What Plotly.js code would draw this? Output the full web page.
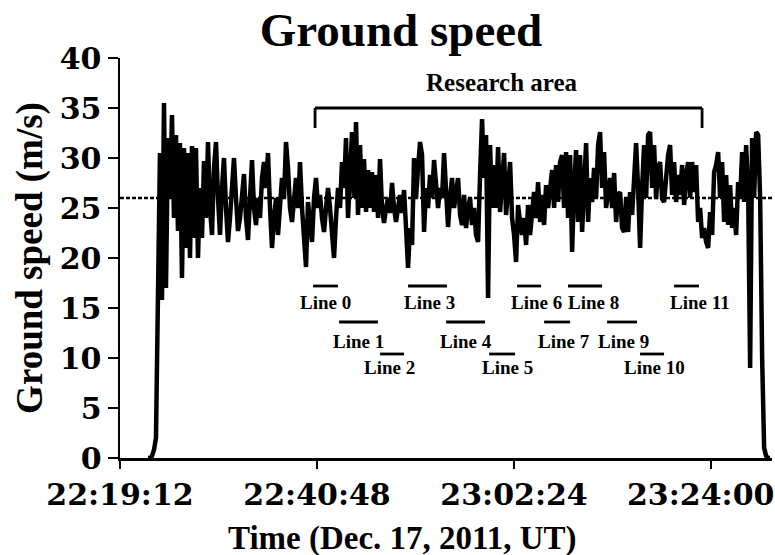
<!DOCTYPE html>
<html>
<head>
<meta charset="utf-8">
<script src="https://cdn.plot.ly/plotly-3.0.1.min.js"></script>
<style>html,body{margin:0;padding:0;background:#fff;}#chart{width:775px;height:555px;}</style>
</head>
<body>
<div id="chart"></div>
<script>
// ---- Data ----
// Ground speed samples (m/s), uniformly sampled from the first sample time
const sampleStart = '2011-12-17 22:22:16';
const sampleStepSeconds = 13.16;
const groundSpeed = [
  0, 0, 0.2, 0.8, 2, 21, 30.5, 15.8, 35.5, 17,
  32, 26, 34.3, 24, 32.3, 22.7, 31.5, 18, 31, 21,
  30.5, 20, 31.2, 22, 31, 20, 27, 22, 29.7, 24,
  31.6, 25, 22.3, 29, 31.6, 26, 22.3, 27, 30, 25,
  21.6, 24, 28, 30, 26, 22.7, 24, 26, 28.4, 24,
  21.8, 26, 29.8, 25, 23.3, 26, 24, 28, 29.6, 27,
  30.5, 25, 21, 24, 26, 22.3, 25, 28, 26, 31.6,
  29, 25, 23.6, 26, 28, 25, 29.6, 25, 22.6, 19.1,
  25.6, 23, 21.6, 26, 28, 25, 26.3, 24, 22.6, 25,
  27, 25, 23, 20, 24, 27, 25, 29.6, 27, 32,
  24, 28, 32.6, 26, 33.6, 24.3, 31.3, 25, 29.9, 24.6,
  28.8, 25, 28.6, 24.6, 28.3, 24, 29.9, 25, 23.5, 25,
  26, 24.5, 27.5, 25, 23.6, 25, 26.3, 24.5, 26.8, 23,
  19, 23, 21.3, 30, 26, 29, 31.6, 30.3, 22.6, 27,
  25, 28.3, 26, 29.8, 27, 25, 27, 26, 30.5, 26,
  23.1, 26, 28, 25, 26.3, 28, 24.3, 23.3, 26.3, 23,
  25, 26, 23.3, 25, 22.3, 21.6, 28.3, 33.9, 28, 32.3,
  16, 31.3, 25, 29.3, 25, 31.1, 24.6, 27, 30.5, 24.3,
  27, 29.6, 24, 22.3, 19.6, 25.3, 23.6, 22.3, 24, 21.3,
  25.3, 22.3, 24.5, 26.6, 24, 27.6, 23.6, 26.3, 23.3, 27.3,
  25, 27, 28.8, 25, 29.3, 25.6, 29.6, 30.3, 25, 30.6,
  24, 30.3, 20.6, 27, 30.8, 23.6, 30.3, 22.6, 28, 31.5,
  23.6, 28, 25.6, 29, 26, 31.3, 32.6, 27, 30.6, 25,
  26.6, 28, 25, 28.5, 23.6, 26.3, 26.6, 23, 22.6, 26,
  22.6, 26.6, 24.3, 28.3, 31.5, 27, 21, 27, 31.3, 26,
  32.3, 32.6, 27, 31.3, 25.9, 29, 29.6, 25.9, 25.6, 28,
  30.3, 31.3, 26.3, 29.6, 25.6, 28.3, 26.3, 29.3, 25.3, 28.3,
  29.6, 26, 29.6, 26.6, 29.3, 23.6, 25, 22, 23, 21.6,
  21, 24.6, 22.3, 28.6, 29.3, 30.6, 26, 29.6, 23.6, 28.3,
  23.3, 27.3, 23, 25, 22.3, 27.6, 26, 30.6, 25.6, 31.3,
  27, 9, 32, 26, 32.6, 32.3, 26, 10, 1, 0.2,
  0, 0
];
const meanSpeed = 26;

// Research area bracket
const researchStart = '2011-12-17 22:40:35';
const researchEnd = '2011-12-17 23:23:01';
const researchTop = 35;
const researchFoot = 33;
const researchLabel = 'Research area';
const researchLabelTime = '2011-12-17 23:01:05';

// Survey lines
const lineNames = ['Line 0','Line 1','Line 2','Line 3','Line 4','Line 5','Line 6','Line 7','Line 8','Line 9','Line 10','Line 11'];
const lineStart = ['22:40:22','22:43:13','22:47:43','22:50:47','22:54:57','22:59:40','23:02:44','23:05:42','23:08:19','23:12:36','23:16:13','23:19:57'];
const lineEnd   = ['22:43:06','22:47:29','22:50:20','22:55:03','22:59:13','23:02:31','23:05:22','23:08:33','23:12:03','23:15:53','23:18:51','23:22:41'];
const lineLabelTime = ['22:41:41','22:45:18','22:48:42','22:53:11','22:57:08','23:01:38','23:04:55','23:07:53','23:11:04','23:14:21','23:17:45','23:22:48'];
const lineRow = [1,2,3,1,2,3,1,2,1,2,3,1];
const rowBarLevel = {1: 17.2, 2: 13.6, 3: 10.4};
const rowLabelLevel = {1: 15.6, 2: 11.7, 3: 9.1};

// Axis ticks
const xTickTimes = ['22:19:12', '22:40:48', '23:02:24', '23:24:00'];
const xRange = ['2011-12-17 22:19:12', '2011-12-17 23:30:41'];
const yRange = [0, 40];

// ---- Build ----
const day = '2011-12-17 ';
function parseUTC(s) {
  const m = s.match(/(\d+)-(\d+)-(\d+) (\d+):(\d+):(\d+)/);
  return Date.UTC(+m[1], +m[2]-1, +m[3], +m[4], +m[5], +m[6]);
}
const t0 = parseUTC(sampleStart);
const times = groundSpeed.map((_, i) => t0 + i * sampleStepSeconds * 1000);

const serif = 'Liberation Serif, Times New Roman, serif';
const wideSerif = 'DejaVu Serif, serif';
const tickFont = {family: wideSerif, size: 30, color: '#000', weight: 'bold'};
const traces = [{
  x: times, y: groundSpeed, type: 'scatter', mode: 'lines',
  line: {color: '#000', width: 4.5}, hoverinfo: 'skip'
}];

const blackLine = {color: '#000', width: 2.8};
const shapes = [
  {type: 'line', xref: 'paper', x0: 0, x1: 1, yref: 'y', y0: meanSpeed, y1: meanSpeed,
   line: {color: '#000', width: 2.5, dash: '4px,2px'}},
  {type: 'line', xref: 'x', yref: 'y', x0: researchStart, x1: researchEnd, y0: researchTop, y1: researchTop, line: blackLine},
  {type: 'line', xref: 'x', yref: 'y', x0: researchStart, x1: researchStart, y0: researchTop, y1: researchFoot, line: blackLine},
  {type: 'line', xref: 'x', yref: 'y', x0: researchEnd, x1: researchEnd, y0: researchTop, y1: researchFoot, line: blackLine}
];
const annotations = [
  {x: researchLabelTime, y: 37.6, xref: 'x', yref: 'y', text: researchLabel, showarrow: false,
   font: {family: serif, size: 25, color: '#000', weight: 'bold'}}
];
lineNames.forEach((n, i) => {
  const yb = rowBarLevel[lineRow[i]];
  shapes.push({type: 'line', xref: 'x', yref: 'y', x0: day + lineStart[i], x1: day + lineEnd[i],
    y0: yb, y1: yb, line: blackLine});
  annotations.push({x: day + lineLabelTime[i], y: rowLabelLevel[lineRow[i]], xref: 'x', yref: 'y',
    text: n, showarrow: false, font: {family: serif, size: 19, color: '#000', weight: 'bold'}});
});
annotations.push({x: (402 - 120) / 652, y: -0.2, xref: 'paper', yref: 'paper', yanchor: 'middle',
  text: 'Time (Dec. 17, 2011, UT)', showarrow: false,
  font: {family: serif, size: 33, color: '#000', weight: 'bold'}});
// last time label is pushed left so that it stays inside the picture, as in the reference
const lastIdx = xTickTimes.length - 1;
annotations.push({x: 1 + 3 / 652, xanchor: 'right', xref: 'paper', y: -36 / 400, yref: 'paper', yanchor: 'middle',
  text: xTickTimes[lastIdx], showarrow: false, xshift: 0, borderpad: 0, font: tickFont});

const layout = {
  width: 775, height: 555,
  margin: {l: 120, r: 3, t: 58, b: 97},
  paper_bgcolor: '#fff', plot_bgcolor: '#fff',
  showlegend: false,
  title: {text: 'Ground speed', x: 401 / 775, xanchor: 'center', xref: 'container',
          y: 1 - 30 / 555, yanchor: 'middle', yref: 'container',
          font: {family: serif, size: 47, color: '#000', weight: 'bold'}},
  xaxis: {type: 'date', range: xRange,
          tickvals: xTickTimes.map(t => day + t),
          ticktext: xTickTimes.map((t, i) => i === lastIdx ? '' : t),
          ticks: 'outside', ticklen: 8, tickwidth: 2.5, tickcolor: '#000',
          showline: true, linewidth: 2.5, linecolor: '#000', showgrid: false, zeroline: false,
          tickfont: tickFont},
  yaxis: {range: yRange, dtick: 5, tick0: 0, ticks: 'outside', ticklen: 10, tickwidth: 2.5, tickcolor: '#000',
          showline: true, linewidth: 2.5, linecolor: '#000', showgrid: false, zeroline: false,
          tickfont: tickFont,
          title: {text: 'Ground speed (m/s)', standoff: 6,
                  font: {family: serif, size: 37, color: '#000', weight: 'bold'}}},
  shapes: shapes,
  annotations: annotations
};
Plotly.newPlot('chart', traces, layout, {displayModeBar: false, staticPlot: true});
</script>
</body>
</html>
